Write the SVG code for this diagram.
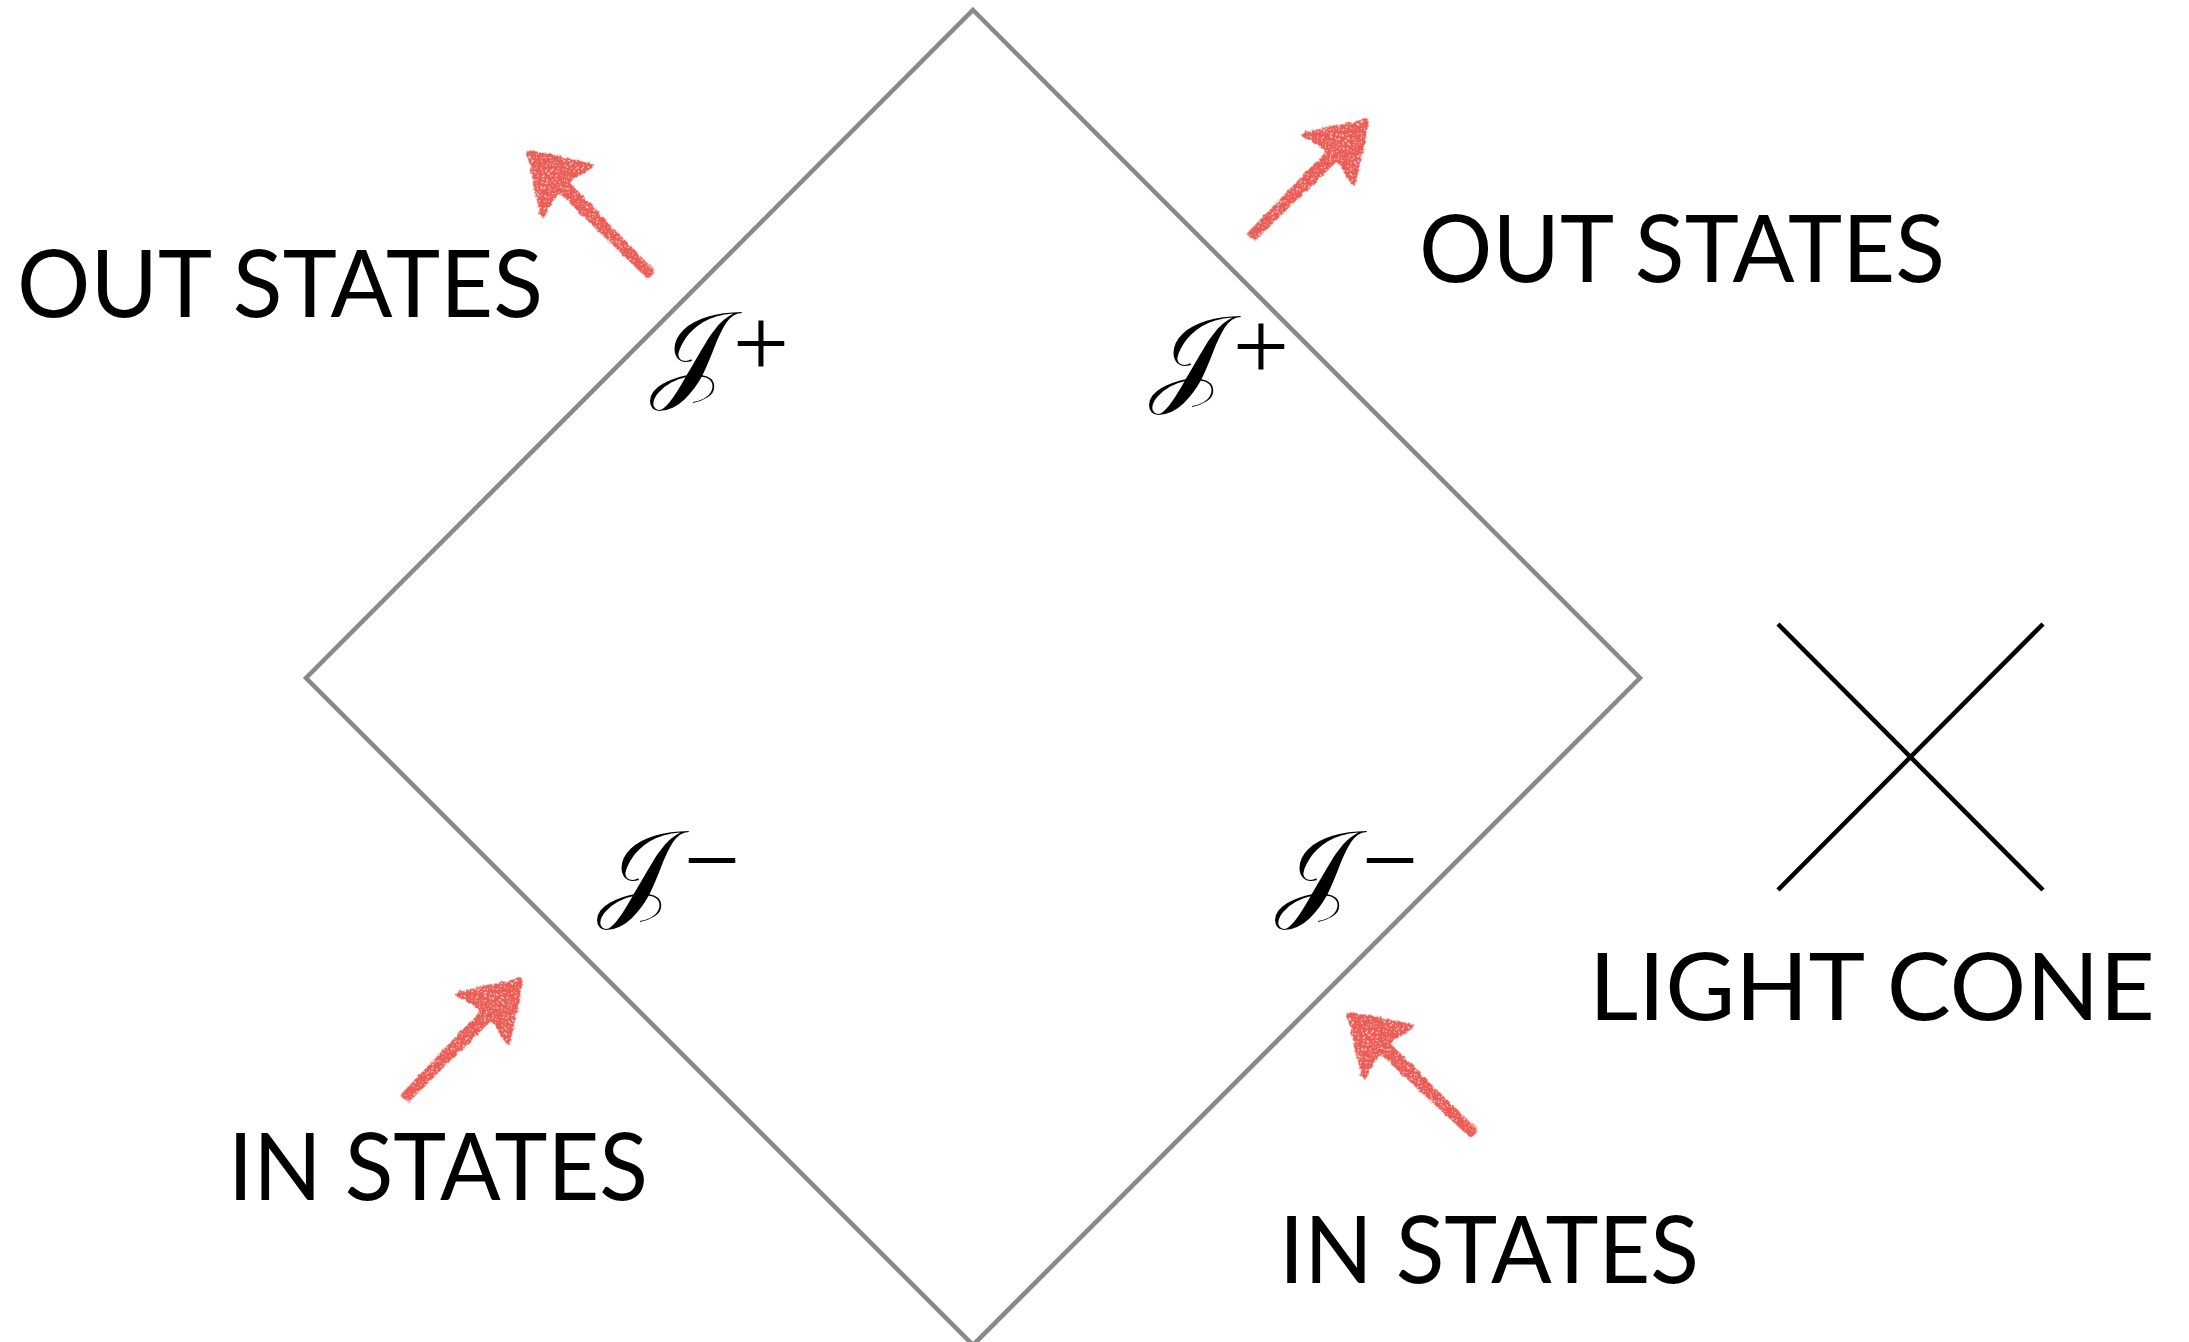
<svg xmlns="http://www.w3.org/2000/svg" width="2189" height="1342" viewBox="0 0 2189 1342">
<style>
.lbl{font-family:Lato,"Open Sans","Liberation Sans",sans-serif;font-size:93px;fill:#000;}
.scri{font-family:"DejaVu Serif","DejaVu Sans","Liberation Serif",serif;font-size:110px;fill:#000;}
.sup{font-family:"Liberation Serif","DejaVu Serif",serif;font-size:100px;fill:#000;text-anchor:middle;}
.arr{fill:#ec5d57;stroke:#ec5d57;stroke-width:3;stroke-linejoin:round;filter:url(#rough);}
</style>
<defs>
<filter id="rough" x="-30%" y="-30%" width="160%" height="160%">
<feTurbulence type="fractalNoise" baseFrequency="0.18" numOctaves="2" seed="4" result="n"/>
<feDisplacementMap in="SourceGraphic" in2="n" scale="5" xChannelSelector="R" yChannelSelector="G" result="d"/>
<feTurbulence type="fractalNoise" baseFrequency="0.55" numOctaves="1" seed="9" result="t"/>
<feColorMatrix in="t" type="matrix" values="0 0 0 0 0  0 0 0 0 0  0 0 0 0 0  8 0 0 0 -2.3" result="m"/>
<feComposite in="d" in2="m" operator="in"/>
</filter>
</defs>
<rect width="2189" height="1342" fill="#fff"/>
<g id="diagram">
<polygon points="973,10 1640,678 973,1345 306,678" fill="none" stroke="#87898d" stroke-width="4.5"/>
</g>
<g id="light-cone">
<line x1="1778" y1="624" x2="2043" y2="890" stroke="#000" stroke-width="4.5"/>
<line x1="2043" y1="624" x2="1778" y2="890" stroke="#000" stroke-width="4.5"/>
<text class="lbl" x="1589" y="1020" textLength="566" lengthAdjust="spacingAndGlyphs">LIGHT CONE</text>
</g>
<g id="scri-plus-left">
<text class="scri" x="688" y="388" text-anchor="middle">𝒥</text>
<text class="sup" x="761" y="377">+</text>
</g>
<g id="scri-plus-right">
<text class="scri" x="1187" y="392" text-anchor="middle">𝒥</text>
<text class="sup" x="1261" y="380">+</text>
</g>
<g id="scri-minus-left">
<text class="scri" x="635" y="907" text-anchor="middle">𝒥</text>
<text class="sup" x="712" y="894">−</text>
</g>
<g id="scri-minus-right">
<text class="scri" x="1313" y="907" text-anchor="middle">𝒥</text>
<text class="sup" x="1390" y="894">−</text>
</g>
<g id="out-left"><text class="lbl" x="17" y="317" textLength="526" lengthAdjust="spacingAndGlyphs">OUT STATES</text></g>
<g id="out-right"><text class="lbl" x="1419" y="282" textLength="526" lengthAdjust="spacingAndGlyphs">OUT STATES</text></g>
<g id="in-left"><text class="lbl" x="228" y="1200" textLength="420" lengthAdjust="spacingAndGlyphs">IN STATES</text></g>
<g id="in-right"><text class="lbl" x="1279" y="1283" textLength="420" lengthAdjust="spacingAndGlyphs">IN STATES</text></g>
<g id="connectors">
<path class="arr" transform="translate(528,151) rotate(-134.8)" d="M0,0 L-56,-36 L-50,-6 L-173,-4 L-173,4 L-50,6 L-56,36 Z"/>
<path class="arr" transform="translate(1368,120) rotate(-45)" d="M0,0 L-56,-36 L-50,-6 L-165,-4 L-165,4 L-50,6 L-56,36 Z"/>
<path class="arr" transform="translate(522,979) rotate(-45.5)" d="M0,0 L-56,-36 L-50,-6 L-167,-4 L-167,4 L-50,6 L-56,36 Z"/>
<path class="arr" transform="translate(1348,1013) rotate(-136.2)" d="M0,0 L-56,-36 L-50,-6 L-173,-4 L-173,4 L-50,6 L-56,36 Z"/>
</g>
</svg>
